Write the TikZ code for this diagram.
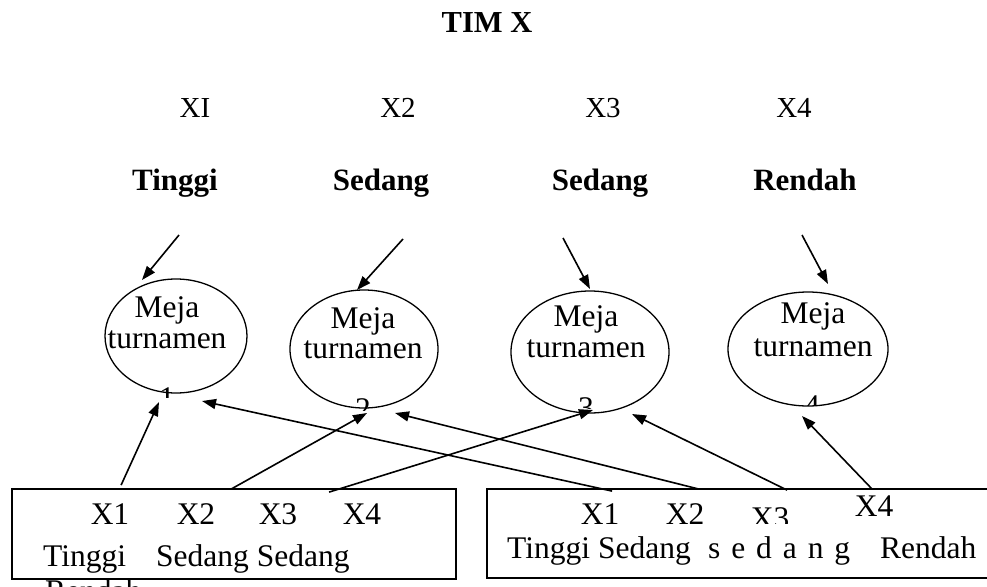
\documentclass[tikz,border=0pt]{standalone}
\usepackage{fontspec}
\setmainfont{Liberation Serif}
\usetikzlibrary{arrows.meta,shapes.geometric}
\tikzset{
  boxtext/.style={font=\fontsize{31.5}{31}\selectfont, inner sep=0pt, anchor=base},
  toplabel/.style={font=\fontsize{29}{29}\selectfont, inner sep=0pt, anchor=base},
  boldlabel/.style={font=\bfseries\fontsize{31}{31}\selectfont, inner sep=0pt, anchor=base},
  tablenode/.style={draw, ellipse, line width=1.3pt, inner sep=0pt},
  panel/.style={draw, rectangle, line width=1.8pt, inner sep=0pt},
  arr/.style={line width=1.6pt, -{Triangle[length=14pt,width=10pt]}},
}
\begin{document}
\begin{tikzpicture}[x=1pt,y=-1pt]
\clip (0,0) rectangle (987,586);
\fill[white] (0,0) rectangle (987,586);

% title and top labels
\node[boldlabel, font=\bfseries\fontsize{30.5}{30}\selectfont] (title) at (487,33) {TIM X};
\node[toplabel] (x1) at (195,117) {XI};
\node[toplabel] (x2) at (398,117) {X2};
\node[toplabel] (x3) at (603,117) {X3};
\node[toplabel] (x4) at (794,117) {X4};
\node[boldlabel] (b1) at (175,190) {Tinggi};
\node[boldlabel] (b2) at (381,190) {Sedang};
\node[boldlabel] (b3) at (600,190) {Sedang};
\node[boldlabel] (b4) at (805,190) {Rendah};

% ellipses
\node[tablenode, minimum width=142pt, minimum height=114pt] (e1) at (176,336) {};
\node[tablenode, minimum width=148pt, minimum height=118pt] (e2) at (364,349) {};
\node[tablenode, minimum width=158pt, minimum height=122pt] (e3) at (590,352) {};
\node[tablenode, minimum width=160pt, minimum height=114pt] (e4) at (808,349) {};

\node[boxtext] (m1a) at (167,317) {Meja};
\node[boxtext] (m1b) at (167,348) {turnamen};
\node[boxtext] (m2a) at (363,328) {Meja};
\node[boxtext] (m2b) at (363,358) {turnamen};
\node[boxtext] (m3a) at (586,326) {Meja};
\node[boxtext] (m3b) at (586,357) {turnamen};
\node[boxtext] (m4a) at (813,323) {Meja};
\node[boxtext] (m4b) at (813,356) {turnamen};

% clipped table numbers
\begin{scope}
  \clip (150,380) rectangle (185,397);
  \node[boxtext] (d1) at (167,408) {1};
\end{scope}
\begin{scope}
  \clip (345,390) rectangle (380,410);
  \node[boxtext] (d2) at (363,419) {2};
\end{scope}
\begin{scope}
  \clip (570,390) rectangle (605,408);
  \node[boxtext] (d3) at (586,418) {3};
\end{scope}
\begin{scope}
  \clip (795,388) rectangle (830,405);
  \node[boxtext] (d4) at (812,416) {4};
\end{scope}

% top arrows
\coordinate (s1) at (179,235);
\coordinate (s2) at (403,239);
\coordinate (s3) at (563,238);
\coordinate (s4) at (802,235);
\draw[arr] (s1) -- ([shift={(-34,-56)}]e1.center);
\draw[arr] (s2) -- ([shift={(-7,-59)}]e2.center);
\draw[arr] (s3) -- ([shift={(0,-63)}]e3.center);
\draw[arr] (s4) -- ([shift={(20,-65)}]e4.center);

% boxes
\node[panel, minimum width=444pt, minimum height=90pt] (lb) at (234,534) {};
\node[panel, minimum width=510pt, minimum height=89pt] (rb) at (742,533.5) {};

% left box text
\node[boxtext] (l1) at (110,524) {X1};
\node[boxtext] (l2) at (196,524) {X2};
\node[boxtext] (l3) at (278,524) {X3};
\node[boxtext] (l4) at (362,524) {X4};
\node[boxtext, anchor=base west] (l5) at (43,566) {Tinggi};
\node[boxtext, anchor=base west] (l6) at (156,566) {Sedang Sedang};
\node[boxtext, anchor=base west] (l7) at (45,601) {Rendah};

% right box text
\node[boxtext] (r1) at (600,524) {X1};
\node[boxtext] (r2) at (685,524) {X2};
\begin{scope}
  \clip (740,495) rectangle (800,523);
  \node[boxtext] (r3) at (770,528) {X3};
\end{scope}
\node[boxtext] (r4) at (874,516) {X4};
\node[boxtext, anchor=base west] (r5) at (507,558) {Tinggi};
\node[boxtext, anchor=base west] (r6) at (598,558) {Sedang};
\node[boxtext, anchor=base west] (r7) at (708,558) {\spaceskip=10.9pt\relax s e d a n g};
\node[boxtext, anchor=base west] (r8) at (880,558) {Rendah};

% bottom arrows
\draw[arr] ([xshift=110pt,yshift=3pt]lb.north west) -- ([shift={(-17,66)}]e1.center);
\draw[arr] ([xshift=220pt,yshift=-1pt]lb.north west) -- ([shift={(3,64)}]e2.center);
\draw[arr] ([xshift=318pt,yshift=-4pt]lb.north west) -- ([shift={(3,58)}]e3.center);
\draw[arr] ([xshift=126pt,yshift=-3pt]rb.north west) -- ([shift={(26,65)}]e1.center);
\draw[arr] ([xshift=213pt,yshift=-1pt]rb.north west) -- ([shift={(31,64)}]e2.center);
\draw[arr] ([xshift=301pt,yshift=-2pt]rb.north west) -- ([shift={(42,62)}]e3.center);
\draw[arr] ([xshift=386pt,yshift=-1pt]rb.north west) -- ([shift={(-6,67)}]e4.center);
\end{tikzpicture}
\end{document}
